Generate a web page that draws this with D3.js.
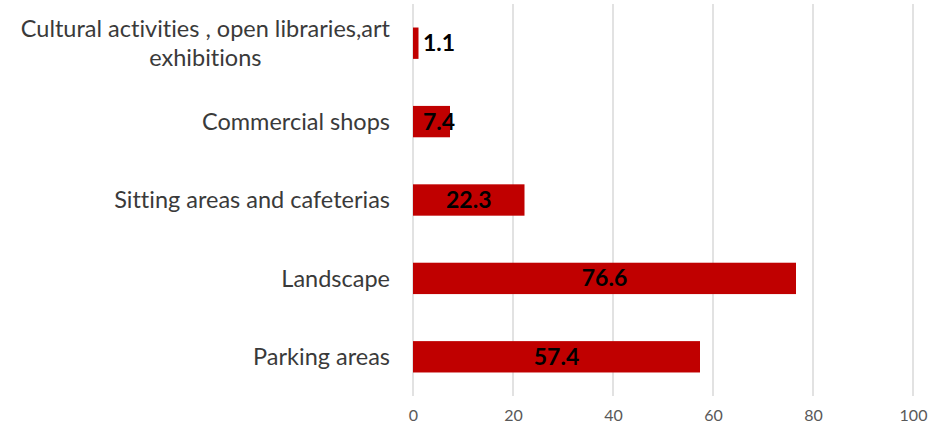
<!DOCTYPE html>
<html>
<head>
<meta charset="utf-8">
<script src="https://cdn.jsdelivr.net/npm/d3@7"></script>
<style>
  body { margin: 0; background: #fff; }
  svg { display: block; }
  text { font-variant-ligatures: none; }
</style>
</head>
<body>
<div id="chart"></div>
<script>
// data
const categories = [
  "Cultural activities , open libraries,art exhibitions",
  "Commercial shops",
  "Sitting areas and cafeterias",
  "Landscape",
  "Parking areas"
];
const values = [1.1, 7.4, 22.3, 76.6, 57.4];
const xTicks = [0, 20, 40, 60, 80, 100];

const width = 931;
const height = 428;
const margin = { top: 4, right: 18, bottom: 32, left: 413 };

const svg = d3.select("#chart")
  .append("svg")
  .attr("width", width)
  .attr("height", height);

const g = svg.append("g")
  .attr("transform", `translate(${margin.left},${margin.top})`);

const innerW = width - margin.left - margin.right;
const innerH = height - margin.top - margin.bottom;

const x = d3.scaleLinear().domain([0, 100]).range([0, innerW]);
const y = d3.scaleBand().domain(categories).range([0, innerH]).paddingInner(0.6).paddingOuter(0.3);

// gridlines
g.append("g")
  .selectAll("line")
  .data(xTicks)
  .join("line")
  .attr("x1", d => x(d))
  .attr("x2", d => x(d))
  .attr("y1", 0)
  .attr("y2", innerH)
  .attr("stroke", "#d9d9d9")
  .attr("stroke-width", 1.5);

// x axis labels only
const xAxis = g.append("g")
  .attr("transform", `translate(0,${innerH})`)
  .call(d3.axisBottom(x).tickValues(xTicks).tickSize(0).tickPadding(14));
xAxis.select(".domain").remove();
xAxis.selectAll("text")
  .attr("font-family", "Lato, 'Open Sans', sans-serif")
  .attr("font-size", 16)
  .attr("fill", "#595959");

// bars
g.append("g")
  .selectAll("rect")
  .data(values)
  .join("rect")
  .attr("x", x(0))
  .attr("y", (d, i) => y(categories[i]))
  .attr("width", d => x(d) - x(0))
  .attr("height", y.bandwidth())
  .attr("fill", "#c00000");

// value labels (small bars push the label to the right)
g.append("g")
  .selectAll("text")
  .data(values)
  .join("text")
  .attr("x", d => Math.max(x(d) / 2, 26))
  .attr("y", (d, i) => y(categories[i]) + y.bandwidth() / 2)
  .attr("dy", "0.35em")
  .attr("text-anchor", "middle")
  .attr("font-family", "Lato, 'Open Sans', sans-serif")
  .attr("font-weight", "bold")
  .attr("font-size", 23)
  .attr("fill", "#000")
  .text(d => d);

// category labels, wrapped like Excel does
const labelGap = 23;
const maxLabelW = 395;
const labels = g.append("g")
  .selectAll("text")
  .data(categories)
  .join("text")
  .attr("font-family", "Lato, 'Open Sans', sans-serif")
  .attr("font-size", 23.5)
  .attr("fill", "#3a3a3a");

labels.each(function (d) {
  const text = d3.select(this);
  const words = d.split(" ");
  const lines = [];
  let line = [];
  const probe = text.append("tspan");
  words.forEach(w => {
    line.push(w);
    probe.text(line.join(" "));
    if (probe.node().getComputedTextLength() > maxLabelW && line.length > 1) {
      line.pop();
      lines.push(line.join(" "));
      line = [w];
    }
  });
  lines.push(line.join(" "));
  let widest = 0;
  lines.forEach(l => {
    probe.text(l);
    widest = Math.max(widest, probe.node().getComputedTextLength());
  });
  probe.remove();

  const lineH = 29;
  const cy = y(d) + y.bandwidth() / 2;
  const multi = lines.length > 1;
  const lx = multi ? -labelGap - widest / 2 : -labelGap;
  text.attr("text-anchor", multi ? "middle" : "end");
  lines.forEach((l, i) => {
    text.append("tspan")
      .attr("x", lx)
      .attr("y", cy + (i - (lines.length - 1) / 2) * lineH)
      .attr("dy", "0.35em")
      .text(l);
  });
});
</script>
</body>
</html>
